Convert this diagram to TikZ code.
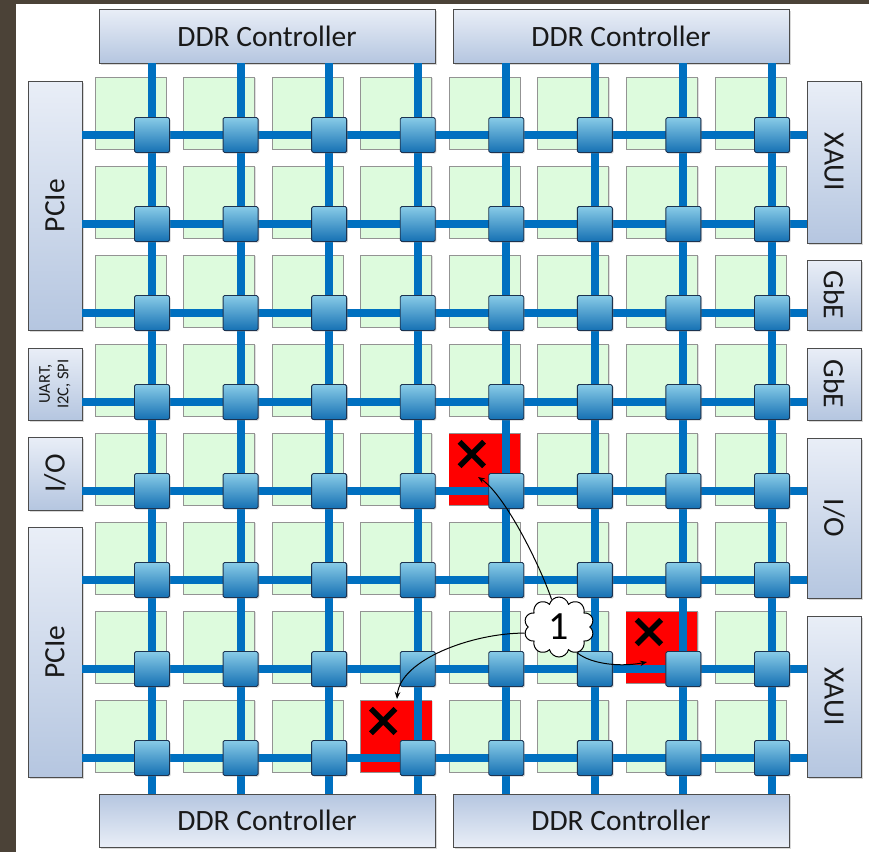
\documentclass[tikz,border=0pt]{standalone}
\usepackage{fontspec}
\setmainfont{Carlito}
\usepackage{tikz}
\usetikzlibrary{shapes.symbols,shapes.misc,arrows.meta,shadows}

\definecolor{frame}{HTML}{4B4237}
\definecolor{meshblue}{HTML}{0070C0}
\definecolor{tilegreen}{HTML}{DDFBDD}
\definecolor{boxlight}{HTML}{E9EEF7}
\definecolor{boxdark}{HTML}{B5C6E0}
\definecolor{routerlight}{HTML}{88CBE7}
\definecolor{routerdark}{HTML}{1570B3}
\definecolor{routeredge}{HTML}{1C3350}

\tikzset{
  tile/.style={draw=gray!85, line width=0.8pt, fill=tilegreen, minimum width=71pt,
    minimum height=72pt, inner sep=0pt,
    drop shadow={shadow xshift=1.2pt, shadow yshift=-1.2pt, opacity=0.25}},
  badtile/.style={fill=red, minimum width=71pt, minimum height=71pt, inner sep=0pt},
  fault mark/.style={cross out, draw=black, line width=5.5pt, minimum size=19pt, inner sep=0pt},
  router/.style={draw=routeredge, line width=0.9pt, rounded corners=1.5pt,
    top color=routerlight, bottom color=routerdark, minimum size=35pt, inner sep=0pt,
    drop shadow={shadow xshift=1.2pt, shadow yshift=-1.2pt, opacity=0.35}},
  link/.style={meshblue, line width=8pt},
  ctrl/.style={draw=black!70, line width=0.8pt, top color=boxlight, bottom color=boxdark,
    inner sep=0pt, font=\fontsize{29.5}{32}\selectfont, text=black!90,
    drop shadow={shadow xshift=1.5pt, shadow yshift=-1.5pt, opacity=0.3}},
  bubble/.style={cloud, cloud puffs=10, aspect=1.15, draw, line width=1pt, fill=white,
    minimum width=70pt, minimum height=60pt, inner sep=0pt,
    font=\fontsize{40}{40}\selectfont},
  hit/.style={-{Stealth[length=7pt,width=5.5pt]}, line width=1pt, black}
}

\begin{document}
\begin{tikzpicture}[x=1pt, y=-1pt]
    \useasboundingbox (0,0) rectangle (869,852);
    % Draw frame
    \fill[frame] (0,0) rectangle (869,852);
    \fill[white] (16,4) rectangle (869,852);

    % Grid points of the mesh
    \foreach \r in {1,...,8}
      \foreach \c in {1,...,8}
        \coordinate (p-\r-\c) at ({152+88.57*(\c-1)}, {135+89*(\r-1)});

    % Draw tiles
    \foreach \r in {1,...,8}
      \foreach \c in {1,...,8}
        \node[tile, xshift=-21.5pt, yshift=22pt] (t-\r-\c) at (p-\r-\c) {};

    % Draw faulty tiles
    \foreach \r/\c/\n in {5/5/a, 7/7/b, 8/4/c}{
        \node[badtile, xshift=-21.5pt, yshift=22pt] (bad-\n) at (p-\r-\c) {};
        \node[fault mark, xshift=-13pt, yshift=15pt] (x-\n) at (bad-\n) {};
    }

    % Draw controllers on top and bottom
    \node[ctrl, minimum width=336pt, minimum height=54pt] (ddr-tl) at (267,36) {DDR Controller};
    \node[ctrl, minimum width=336pt, minimum height=54pt] (ddr-tr) at (621,36) {DDR Controller};
    \node[ctrl, top color=boxdark, bottom color=boxlight, minimum width=336pt, minimum height=53pt]
        (ddr-bl) at (267,820.5) {DDR Controller};
    \node[ctrl, top color=boxdark, bottom color=boxlight, minimum width=336pt, minimum height=53pt]
        (ddr-br) at (621,820.5) {DDR Controller};

    % Draw interfaces on the left (rotated, so south faces the mesh)
    \node[ctrl, rotate=90, minimum width=249pt, minimum height=54pt] (pcie-a) at (55,205.5) {PCIe};
    \node[ctrl, rotate=90, minimum width=72pt, minimum height=54pt, align=center,
        font=\fontsize{16.5}{18.5}\selectfont] (uart) at (55,384) {UART,\\I2C, SPI};
    \node[ctrl, rotate=90, minimum width=73pt, minimum height=54pt] (io-a) at (55,473.5) {I/O};
    \node[ctrl, rotate=90, minimum width=250pt, minimum height=54pt] (pcie-b) at (55,652) {PCIe};

    % Draw interfaces on the right
    \node[ctrl, rotate=-90, minimum width=162pt, minimum height=54pt] (xaui-a) at (834,162) {XAUI};
    \node[ctrl, rotate=-90, minimum width=70pt, minimum height=54pt] (gbe-a) at (834,295) {GbE};
    \node[ctrl, rotate=-90, minimum width=72pt, minimum height=54pt] (gbe-b) at (834,384) {GbE};
    \node[ctrl, rotate=-90, minimum width=160pt, minimum height=54pt] (io-b) at (834,518) {I/O};
    \node[ctrl, rotate=-90, minimum width=161pt, minimum height=54pt] (xaui-b) at (834,696.5) {XAUI};

    % Draw mesh links
    \foreach \c in {1,...,8}
      \draw[link] (p-1-\c |- ddr-tl.south) -- (p-8-\c |- ddr-bl.north);
    \foreach \r in {1,...,8}
      \draw[link] (p-\r-1 -| pcie-a.south) -- (p-\r-8 -| xaui-a.south);

    % Draw routers
    \foreach \r in {1,...,8}
      \foreach \c in {1,...,8}
        \node[router] (r-\r-\c) at (p-\r-\c) {};

    % Fault and its effects
    \node[bubble] (fault) at (559,627) {1};
    \coordinate (hit-a) at (478,477);
    \coordinate (hit-b) at (647,662);
    \coordinate (hit-c) at (397,699);
    \draw[hit] (fault.105) .. controls +(-12,-35) and +(27,18) .. (hit-a);
    \draw[hit] (fault.-55) .. controls +(15,12) and +(-25,5) .. (hit-b);
    \draw[hit] (fault.190) .. controls +(-53,0) and +(3,-39) .. (hit-c);
\end{tikzpicture}
\end{document}
